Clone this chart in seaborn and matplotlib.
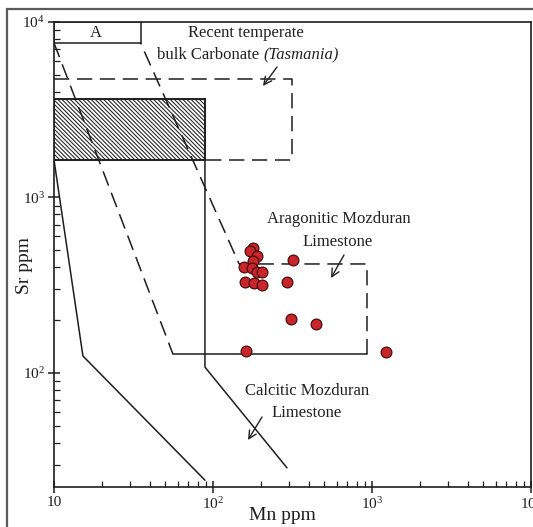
import matplotlib
matplotlib.use("Agg")
import matplotlib.pyplot as plt
import seaborn as sns
import pandas as pd
from matplotlib.patches import Rectangle

# ---- data (Mn ppm, Sr ppm) ----
mn_ppm = [178, 171, 188, 178, 157, 175, 188, 204, 159, 181, 202, 320, 291, 310, 443, 161, 1225]
sr_ppm = [513, 496, 466, 435, 403, 395, 378, 375, 331, 324, 317, 440, 329, 203, 190, 134, 131]

# field boundaries
box_a_mn = [10, 35]
box_a_sr = [7600, 10000]
hatched_mn = [10, 89]
hatched_sr = [1640, 3640]
tasmania_mn = [10, 314]
tasmania_sr = [1640, 4740]
arag_left_mn = [10, 56]
arag_left_sr = [7600, 128]
arag_base_mn = [56, 930]
arag_base_sr = [128, 128]
arag_right_mn = [930, 930, 146, 35]
arag_right_sr = [128, 418, 418, 7600]
calc_left_mn = [10, 15.2, 89]
calc_left_sr = [1640, 125, 24.5]
calc_right_mn = [89, 89, 292]
calc_right_sr = [1640, 108, 28.8]

x_ticks = [10, 100, 1000, 10000]
x_ticklabels = ["10", r"$\mathregular{10^2}$", r"$\mathregular{10^3}$", r"$\mathregular{10^4}$"]
y_ticks = [100, 1000, 10000]
y_ticklabels = [r"$\mathregular{10^2}$", r"$\mathregular{10^3}$", r"$\mathregular{10^4}$"]

sns.set_theme(style="ticks")
plt.rcParams["font.family"] = ["Liberation Serif", "DejaVu Serif"]
plt.rcParams["mathtext.fontset"] = "custom"
plt.rcParams["mathtext.rm"] = "Liberation Serif"
plt.rcParams["hatch.linewidth"] = 0.8

W, H = 533, 527
fig = plt.figure(figsize=(W / 100, H / 100), dpi=100)
fig.patch.set_facecolor("white")


def fp(x, y):
    return (x / W, 1 - y / H)


ax = fig.add_axes([54 / W, 1 - 487 / H, 477 / W, 465 / H])
ax.set_xscale("log")
ax.set_yscale("log")
ax.set_xlim(10, 10000)
ax.set_ylim(22.4, 10000)

lc = "#1e1e1e"
dash = (0, (10, 5))

# hatched field
ax.fill_between(hatched_mn, hatched_sr[0], hatched_sr[1], facecolor="white",
                edgecolor="#2a2a2a", hatch="\\\\\\\\\\\\\\\\", linewidth=0)
ax.add_patch(Rectangle((hatched_mn[0], hatched_sr[0]), hatched_mn[1] - hatched_mn[0],
                       hatched_sr[1] - hatched_sr[0], fill=False, edgecolor=lc, lw=1.4))
# box A
ax.add_patch(Rectangle((box_a_mn[0], box_a_sr[0]), box_a_mn[1] - box_a_mn[0],
                       box_a_sr[1] - box_a_sr[0], fill=False, edgecolor=lc, lw=1.1))
# Tasmania dashed box
ax.plot([tasmania_mn[0], tasmania_mn[1], tasmania_mn[1], hatched_mn[1]],
        [tasmania_sr[1], tasmania_sr[1], tasmania_sr[0], tasmania_sr[0]],
        color=lc, lw=1.1, ls=dash)
# aragonite field
ax.plot(arag_left_mn, arag_left_sr, color=lc, lw=1.1, ls=dash)
ax.plot(arag_base_mn, arag_base_sr, color=lc, lw=1.1)
ax.plot(arag_right_mn, arag_right_sr, color=lc, lw=1.1, ls=dash)
# calcite field
ax.plot(calc_left_mn, calc_left_sr, color=lc, lw=1.1)
ax.plot(calc_right_mn, calc_right_sr, color=lc, lw=1.1)

df = pd.DataFrame({"Mn": mn_ppm, "Sr": sr_ppm})
sns.scatterplot(data=df, x="Mn", y="Sr", ax=ax, s=60, color="#c8262a",
                edgecolor="#4a0c0c", linewidth=0.9, zorder=5, legend=False)

ax.set_xticks(x_ticks)
ax.set_xticklabels(x_ticklabels)
ax.set_yticks(y_ticks)
ax.set_yticklabels(y_ticklabels)
ax.tick_params(which="major", direction="inout", length=9, width=1.1, colors=lc,
               labelsize=11, pad=2)
ax.tick_params(which="minor", direction="in", length=4, width=0.9, colors=lc)
for s in ax.spines.values():
    s.set_color(lc)
    s.set_linewidth(1.2)

ax.set_xlabel("Mn ppm", fontsize=14, color=lc)
ax.set_ylabel("Sr ppm", fontsize=14, color=lc)
ax.xaxis.set_label_coords((282 - 54) / 477, -(507 - 487) / 465)
ax.yaxis.set_label_coords(-(54 - 33) / 477, 1 - (265 - 22) / 465)

tc = "#222222"
fig.text(*fp(96, 33), "A", fontsize=12, ha="center", va="center", color=tc)
fig.text(*fp(246, 33), "Recent temperate", fontsize=12, ha="center", va="center", color=tc)
fig.text(*fp(259, 55), "bulk Carbonate", fontsize=12, ha="right", va="center", color=tc)
fig.text(*fp(263, 55), "(Tasmania)", fontsize=12, ha="left", va="center", color=tc,
         style="italic")
fig.text(*fp(339, 219), "Aragonitic Mozduran", fontsize=12, ha="center", va="center", color=tc)
fig.text(*fp(338, 242), "Limestone", fontsize=12, ha="center", va="center", color=tc)
fig.text(*fp(307, 391), "Calcitic Mozduran", fontsize=12, ha="center", va="center", color=tc)
fig.text(*fp(307, 413), "Limestone", fontsize=12, ha="center", va="center", color=tc)

arrow = dict(arrowstyle="->", color=tc, lw=1.0, mutation_scale=14, shrinkA=0, shrinkB=0)
ax.annotate("", xy=fp(263, 86), xytext=fp(277, 67), xycoords="figure fraction",
            textcoords="figure fraction", arrowprops=arrow)
ax.annotate("", xy=fp(331, 278), xytext=fp(344, 255), xycoords="figure fraction",
            textcoords="figure fraction", arrowprops=arrow)
ax.annotate("", xy=fp(248, 440), xytext=fp(262, 417), xycoords="figure fraction",
            textcoords="figure fraction", arrowprops=arrow)

# outer frame of the figure panel
fig.patches.append(Rectangle((7 / W, -0.1), 1.2, 1.1 - 9 / H, fill=False,
                             edgecolor="#5a5a5a", lw=1.6, transform=fig.transFigure))

fig.savefig("out.png", dpi=100)
